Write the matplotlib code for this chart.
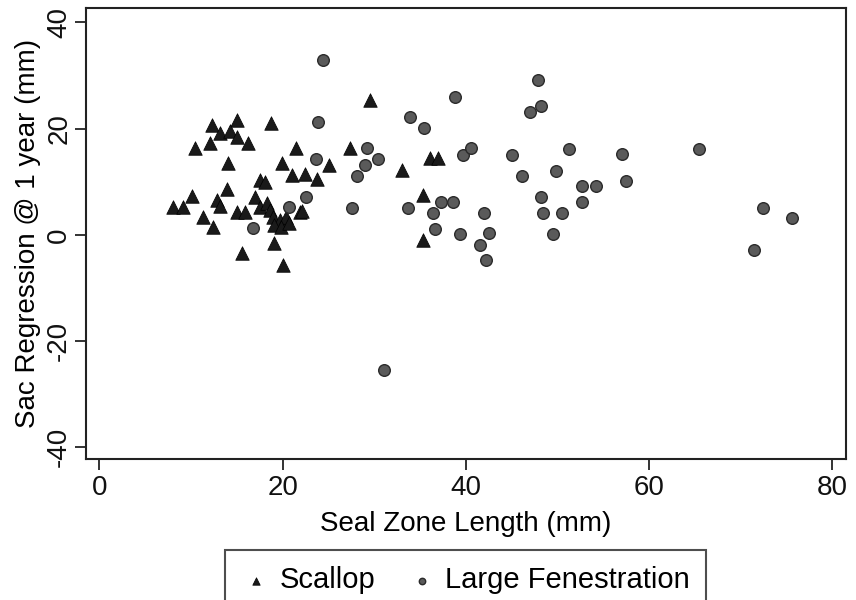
import numpy as np
import matplotlib
matplotlib.use("Agg")
import matplotlib.pyplot as plt

plt.rcParams['font.family'] = ['Liberation Sans', 'DejaVu Sans']
plt.rcParams['axes.unicode_minus'] = False

# Scallop (triangles)
scallop_x = [18.7, 15.0, 12.3, 13.1, 14.2, 15.0, 12.1, 10.4, 16.2, 21.5, 14.0, 19.9,
             21.0, 22.4, 23.7, 25.1, 17.5, 18.1, 13.9, 17.0, 10.1, 12.8, 13.1, 8.0,
             9.1, 15.0, 15.9, 17.5, 18.3, 18.6, 21.9, 22.1, 11.3, 12.4, 18.9, 19.7,
             20.4, 19.1, 19.8, 20.7, 19.1, 15.5, 20.0, 29.5, 27.3, 33.0, 36.1, 37.0,
             35.3, 35.3]
scallop_y = [21.0, 21.7, 20.7, 19.2, 19.5, 18.5, 17.3, 16.4, 17.3, 16.4, 13.6, 13.6,
             11.3, 11.5, 10.5, 13.2, 10.4, 10.0, 8.7, 7.2, 7.3, 6.6, 5.5, 5.3,
             5.3, 4.3, 4.3, 5.3, 5.9, 4.6, 4.3, 4.4, 3.4, 1.5, 3.4, 2.8,
             3.4, 1.9, 1.5, 2.3, -1.5, -3.4, -5.6, 25.4, 16.3, 12.2, 14.4, 14.4,
             7.5, -0.9]

# Large Fenestration (circles)
fen_x = [24.4, 38.8, 47.9, 47.0, 48.2, 23.9, 33.9, 35.4, 29.2, 30.4, 29.0, 28.1,
         23.6, 22.5, 20.7, 27.6, 39.7, 40.6, 45.0, 46.1, 48.2, 48.4, 49.8, 49.5,
         33.7, 36.4, 37.3, 38.6, 36.6, 39.3, 42.0, 42.5, 41.5, 42.2, 31.0, 16.8,
         51.2, 57.0, 65.4, 57.5, 52.7, 54.2, 52.7, 50.5, 72.4, 75.6, 71.4]
fen_y = [33.0, 26.0, 29.2, 23.2, 24.2, 21.3, 22.2, 20.1, 16.3, 14.3, 13.2, 11.1,
         14.3, 7.2, 5.3, 5.1, 15.1, 16.3, 15.1, 11.1, 7.2, 4.2, 12.1, 0.1,
         5.1, 4.2, 6.2, 6.2, 1.1, 0.1, 4.2, 0.4, -1.9, -4.8, -25.4, 1.3,
         16.1, 15.2, 16.1, 10.2, 9.1, 9.1, 6.2, 4.1, 5.1, 3.1, -2.8]

fig = plt.figure(figsize=(8.56, 6.0), dpi=100)
ax = fig.add_axes([0.1005, 0.235, 0.8875, 0.7517])

ax.scatter(scallop_x, scallop_y, marker='^', s=95, color='#1a1a1a',
           edgecolors='#000000', linewidths=0.5, label='Scallop', zorder=3)
ax.scatter(fen_x, fen_y, marker='o', s=70, color='#5a5a5a',
           edgecolors='#2a2a2a', linewidths=1.0, label='Large Fenestration', zorder=3)

ax.set_xlim(-1.47, 81.45)
ax.set_ylim(-42.2, 42.7)
ax.set_xticks([0, 20, 40, 60, 80])
ax.set_yticks([-40, -20, 0, 20, 40])
ax.tick_params(direction='out', length=8, width=1.2, labelsize=20, colors='#111111')
ax.tick_params(axis='y', pad=2)
plt.setp(ax.get_yticklabels(), rotation=90, va='center')
for sp in ax.spines.values():
    sp.set_linewidth(1.5)
    sp.set_color('#222222')

ax.set_xlabel('Seal Zone Length (mm)', fontsize=20, labelpad=7)
ax.set_ylabel('Sac Regression @ 1 year (mm)', fontsize=20, labelpad=4)

leg = fig.legend(loc='upper center', bbox_to_anchor=(0.544, 0.083), ncol=2,
                 fontsize=21, markerscale=0.55, frameon=True, fancybox=False,
                 handletextpad=0.3, columnspacing=1.1, borderpad=0.55,
                 borderaxespad=0, handlelength=1.0)
leg.get_frame().set_edgecolor('#222222')
leg.get_frame().set_linewidth(1.5)

fig.savefig('out.png', dpi=100)
